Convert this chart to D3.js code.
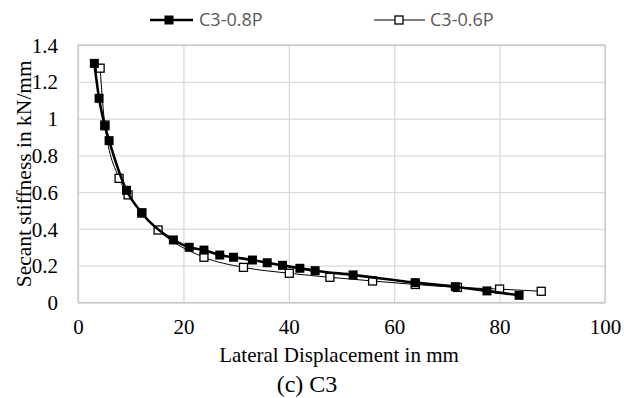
<!DOCTYPE html>
<html><head><meta charset="utf-8">
<script src="https://cdn.jsdelivr.net/npm/d3@7"></script>
<style>html,body{margin:0;padding:0;background:#fff;}svg{display:block;}</style>
</head><body>
<svg id="chart" width="624" height="398"></svg>
<script>
const seriesNames = ["C3-0.8P", "C3-0.6P"];
const dispA = [3.1, 4.0, 5.1, 5.9, 9.2, 12.1, 18.1, 21.1, 23.9, 26.9, 29.5, 33.1, 35.9, 38.8, 42.1, 45.0, 52.2, 64.0, 71.6, 77.6, 83.7];
const stiffA = [1.30, 1.11, 0.96, 0.88, 0.61, 0.487, 0.34, 0.30, 0.285, 0.258, 0.246, 0.231, 0.216, 0.202, 0.186, 0.173, 0.15, 0.108, 0.086, 0.063, 0.039];
const dispB = [4.2, 5.1, 7.8, 9.5, 12.1, 15.2, 23.9, 31.4, 40.1, 47.8, 55.9, 64.0, 72.0, 80.0, 87.9];
const stiffB = [1.274, 0.965, 0.675, 0.585, 0.487, 0.394, 0.246, 0.191, 0.159, 0.137, 0.117, 0.098, 0.082, 0.073, 0.061];
const xTicks = [0, 20, 40, 60, 80, 100];
const yTicks = [0, 0.2, 0.4, 0.6, 0.8, 1, 1.2, 1.4];
const xTitle = "Lateral Displacement in mm";
const yTitle = "Secant stiffness in kN/mm";
const caption = "(c) C3";

const svg = d3.select("#chart");
const L = 78, R = 605, T = 45, B = 302.5;
const x = d3.scaleLinear().domain([0, 100]).range([L, R]);
const y = d3.scaleLinear().domain([0, 1.4]).range([B, T]);
const serif = "'Liberation Serif','Times New Roman',serif";

// gridlines
const gx = svg.append("g").attr("transform", `translate(0,${B})`)
  .call(d3.axisBottom(x).tickValues(xTicks).tickSize(-(B - T)).tickFormat(""));
const gy = svg.append("g").attr("transform", `translate(${L},0)`)
  .call(d3.axisLeft(y).tickValues(yTicks).tickSize(-(R - L)).tickFormat(""));
[gx, gy].forEach(g => {
  g.select(".domain").remove();
  g.selectAll("line").attr("stroke", "#d9d9d9").attr("stroke-width", 1.3);
});
svg.append("rect").attr("x", L).attr("y", T).attr("width", R - L).attr("height", B - T)
  .attr("fill", "none").attr("stroke", "#c9c9c9").attr("stroke-width", 1.3);

// tick labels
const xl = svg.append("g").attr("transform", `translate(0,${B})`)
  .call(d3.axisBottom(x).tickValues(xTicks).tickSize(0).tickPadding(0).tickFormat(d3.format("d")));
xl.select(".domain").remove();
xl.selectAll("text").attr("dy", null).attr("y", 31).attr("font-family", serif).attr("font-size", 21).attr("fill", "#000");
const yl = svg.append("g").attr("transform", `translate(${L},0)`)
  .call(d3.axisLeft(y).tickValues(yTicks).tickSize(0).tickPadding(0).tickFormat(d => d3.format("")(+d.toFixed(1))));
yl.select(".domain").remove();
yl.selectAll("text").attr("x", -20).attr("dy", "0.34em").attr("font-family", serif).attr("font-size", 21).attr("fill", "#000");

// titles
svg.append("text").attr("x", 339).attr("y", 362).attr("text-anchor", "middle")
  .attr("font-family", serif).attr("font-size", 21).text(xTitle);
svg.append("text").attr("transform", `translate(31,${(T + B) / 2}) rotate(-90)`).attr("text-anchor", "middle")
  .attr("font-family", serif).attr("font-size", 21.5).text(yTitle);
svg.append("text").attr("x", 307).attr("y", 392).attr("text-anchor", "middle")
  .attr("font-family", serif).attr("font-size", 24).text(caption);

// series
const dataA = dispA.map((d, i) => ({x: d, y: stiffA[i]}));
const dataB = dispB.map((d, i) => ({x: d, y: stiffB[i]}));
const line = d3.line().x(d => x(d.x)).y(d => y(d.y)).curve(d3.curveMonotoneX);
const ms = 9;

svg.append("path").datum(dataB).attr("d", line).attr("fill", "none").attr("stroke", "#000").attr("stroke-width", 1);
svg.append("g").selectAll("rect").data(dataB).join("rect")
  .attr("x", d => x(d.x) - ms / 2 + 0.5).attr("y", d => y(d.y) - ms / 2 + 0.5)
  .attr("width", ms - 1).attr("height", ms - 1)
  .attr("fill", "#fff").attr("stroke", "#000").attr("stroke-width", 1.3);

svg.append("path").datum(dataA).attr("d", line).attr("fill", "none").attr("stroke", "#000").attr("stroke-width", 2.6);
svg.append("g").selectAll("rect").data(dataA).join("rect")
  .attr("x", d => x(d.x) - ms / 2).attr("y", d => y(d.y) - ms / 2)
  .attr("width", ms).attr("height", ms).attr("fill", "#000");

// legend
const sans = "'Open Sans','Noto Sans',sans-serif";
const lg = [{x1: 150, x2: 193, mx: 169, tx: 199, filled: true, name: seriesNames[0]},
            {x1: 374, x2: 425, mx: 399, tx: 430, filled: false, name: seriesNames[1]}];
const ly = 20;
lg.forEach(o => {
  svg.append("line").attr("x1", o.x1).attr("x2", o.x2).attr("y1", ly).attr("y2", ly)
    .attr("stroke", "#000").attr("stroke-width", o.filled ? 2.6 : 1);
  if (o.filled) {
    svg.append("rect").attr("x", o.mx - ms / 2).attr("y", ly - ms / 2).attr("width", ms).attr("height", ms).attr("fill", "#000");
  } else {
    svg.append("rect").attr("x", o.mx - ms / 2 + 0.5).attr("y", ly - ms / 2 + 0.5).attr("width", ms - 1).attr("height", ms - 1)
      .attr("fill", "#fff").attr("stroke", "#000").attr("stroke-width", 1.3);
  }
  svg.append("text").attr("x", o.tx).attr("y", ly).attr("dy", "0.35em")
    .attr("font-family", sans).attr("font-size", 18).attr("fill", "#595959").text(o.name);
});
</script>
</body></html>
